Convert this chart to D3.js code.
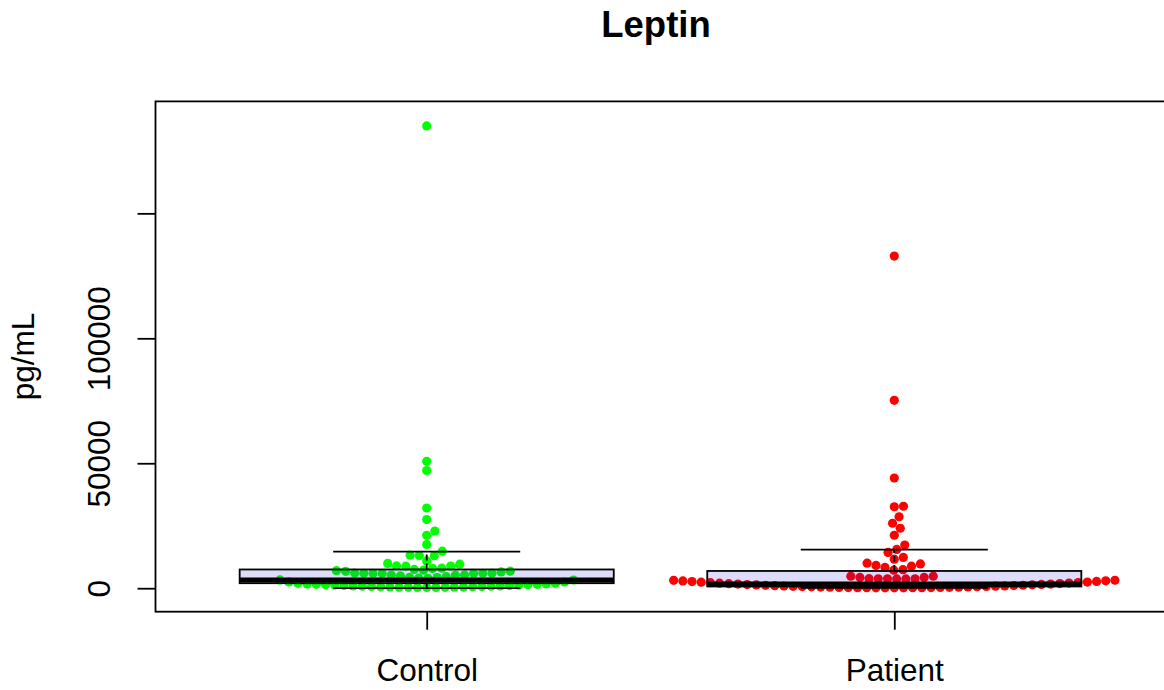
<!DOCTYPE html>
<html><head><meta charset="utf-8">
<script src="https://cdn.jsdelivr.net/npm/d3@7"></script>
<style>body{margin:0;background:#fff}</style>
</head><body>
<svg id="chart" width="1164" height="690"></svg>
<script>
const title = "Leptin";
const yLabel = "pg/mL";
const categories = ["Control", "Patient"];
const pointColors = ["#00FF00", "#FF0000"];
const controlValues = [
  185000, 50800, 47100, 32100, 27500, 22900, 21200, 17500, 14800, 13200, 13100, 13000,
  10900, 9900, 9600, 8900, 8850, 8800, 8000, 7900, 7500, 7200, 7000, 6800, 6750, 6500,
  6050, 6000, 5980, 5950, 5920, 5900, 5880, 5300, 5250, 5200, 4900, 4600,
  4320, 4280, 4000, 3960, 3320, 3280, 2520, 2480, 1960, 1940, 1720, 1700, 1560, 1540,
  1400, 1380, 1240, 1220, 1080, 1060, 920, 900, 800, 780, 680, 660, 560, 540, 480, 460,
  400, 380, 360, 340, 330, 320, 310
];
const patientValues = [
  132900, 75200, 44100, 32800, 32600, 28600, 26000, 24000, 21200, 17300, 15500, 14300,
  12300, 11600, 10000, 9700, 9100, 8800, 8300, 7400, 7200,
  4820, 4800, 4320, 4300, 3800, 3780, 3760, 3740, 3720, 3700,
  3180, 3150, 2940, 2900, 2700, 2660, 2470, 2430, 2260, 2220, 2050, 2020, 1850, 1820,
  1670, 1640, 1500, 1470, 1340, 1310, 1190, 1160, 1050, 1020, 920, 890, 800, 770,
  690, 660, 590, 560, 500, 470, 420, 400, 350, 330, 290, 270, 250, 230, 215, 200,
  185, 170, 165, 150, 140
];
// boxplot statistics: [lower whisker, Q1, median, Q3, upper whisker]
const controlBox = [0, 2000, 3300, 7500, 14600];
const patientBox = [100, 700, 1700, 6900, 15400];
const yTicks = [0, 50000, 100000, 150000];
const yTickLabels = ["0", "50000", "100000", ""];
const yLimits = [-9400, 194800];
const xLimits = [0.42, 2.58];

const groups = [controlValues, patientValues];
const boxes = [controlBox, patientBox];

const svg = d3.select("#chart");
const W = 1164, H = 690;
const plot = {left: 155.5, right: 1165.5, top: 101.4, bottom: 611.7};
const font = "'Liberation Sans', Arial, Helvetica, sans-serif";

const x = d3.scaleLinear().domain(xLimits).range([plot.left, plot.right]);
const y = d3.scaleLinear().domain(yLimits).range([plot.bottom, plot.top]);

svg.append("rect").attr("width", W).attr("height", H).attr("fill", "#fff");

// beeswarm (swarm method, ascending priority)
const spacing = 9.2;
function swarm(values) {
  const pts = values.map(v => ({v, py: y(v)})).sort((a, b) => a.v - b.v);
  const placed = [];
  pts.forEach(p => {
    const near = placed.filter(q => Math.abs(q.py - p.py) < spacing);
    let cands = [0];
    near.forEach(q => {
      const h = Math.sqrt(spacing * spacing - (q.py - p.py) ** 2);
      cands.push(q.off + h);
    });
    near.forEach(q => {
      const h = Math.sqrt(spacing * spacing - (q.py - p.py) ** 2);
      cands.push(q.off - h);
    });
    let best = Infinity;
    cands.forEach(c => {
      const bad = near.some(q => ((c - q.off) ** 2 + (p.py - q.py) ** 2) < 0.999 * spacing * spacing);
      if (!bad && Math.abs(c) < Math.abs(best)) best = c;
    });
    p.off = best;
    placed.push(p);
  });
  return placed;
}

const pointLayer = svg.append("g");
groups.forEach((vals, gi) => {
  const pts = swarm(vals);
  pointLayer.selectAll(null).data(pts).enter().append("circle")
    .attr("cx", d => x(gi + 1) + d.off)
    .attr("cy", d => d.py)
    .attr("r", 4.6)
    .attr("fill", pointColors[gi]);
});

// boxplots drawn on top
const bw = 0.8, sw = 0.4;
boxes.forEach((b, gi) => {
  const c = gi + 1;
  const g = svg.append("g");
  g.append("line").attr("x1", x(c)).attr("x2", x(c)).attr("y1", y(b[3])).attr("y2", y(b[4]))
    .attr("stroke", "#000").attr("stroke-width", 1.8).attr("stroke-dasharray", "6,3");
  g.append("line").attr("x1", x(c)).attr("x2", x(c)).attr("y1", y(b[1])).attr("y2", y(b[0]))
    .attr("stroke", "#000").attr("stroke-width", 1.8).attr("stroke-dasharray", "6,3");
  [b[0], b[4]].forEach(v => {
    g.append("line").attr("x1", x(c - sw / 2)).attr("x2", x(c + sw / 2)).attr("y1", y(v)).attr("y2", y(v))
      .attr("stroke", "#000").attr("stroke-width", 1.8);
  });
  g.append("rect").attr("x", x(c - bw / 2)).attr("width", x(c + bw / 2) - x(c - bw / 2))
    .attr("y", y(b[3])).attr("height", y(b[1]) - y(b[3]))
    .attr("fill", "rgba(30,30,220,0.15)").attr("stroke", "#000").attr("stroke-width", 1.8);
  g.append("line").attr("x1", x(c - bw / 2)).attr("x2", x(c + bw / 2)).attr("y1", y(b[2])).attr("y2", y(b[2]))
    .attr("stroke", "#000").attr("stroke-width", 5);
});

// frame
svg.append("rect").attr("x", plot.left).attr("y", plot.top)
  .attr("width", plot.right - plot.left).attr("height", plot.bottom - plot.top)
  .attr("fill", "none").attr("stroke", "#000").attr("stroke-width", 1.8);

// axes
const yAxis = svg.append("g").attr("transform", `translate(${plot.left},0)`)
  .call(d3.axisLeft(y).tickValues(yTicks).tickSize(18).tickFormat((d, i) => yTickLabels[i]));
yAxis.select(".domain").remove();
yAxis.selectAll(".tick line").attr("stroke", "#000").attr("stroke-width", 1.8);
yAxis.selectAll(".tick text")
  .attr("x", 0).attr("y", -46).attr("dy", null)
  .attr("transform", "rotate(-90)").attr("text-anchor", "middle")
  .attr("font-family", font).attr("font-size", 31.5).attr("fill", "#000");

const xAxis = svg.append("g").attr("transform", `translate(0,${plot.bottom})`)
  .call(d3.axisBottom(x).tickValues([1, 2]).tickSize(18).tickFormat(d => categories[d - 1]));
xAxis.select(".domain").remove();
xAxis.selectAll(".tick line").attr("stroke", "#000").attr("stroke-width", 1.8);
xAxis.selectAll(".tick text")
  .attr("y", 69).attr("dy", null)
  .attr("font-family", font).attr("font-size", 31.5).attr("fill", "#000");

svg.append("text").attr("x", 656).attr("y", 37).attr("text-anchor", "middle")
  .attr("font-family", font).attr("font-size", 36.5).attr("font-weight", "bold").text(title);

svg.append("text").attr("transform", `translate(34,${(plot.top + plot.bottom) / 2}) rotate(-90)`)
  .attr("text-anchor", "middle").attr("font-family", font).attr("font-size", 31.5).text(yLabel);
</script>
</body></html>
